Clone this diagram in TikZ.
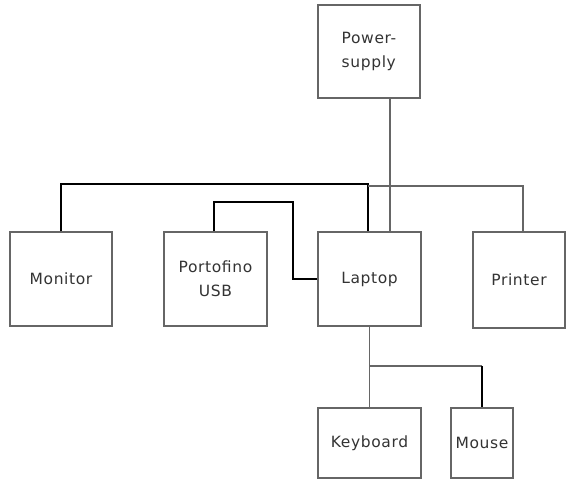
\documentclass[tikz,border=0pt]{standalone}
\usepackage{fontspec}
\setmainfont{DejaVu Sans}[LetterSpace=4]
\begin{document}
\begin{tikzpicture}[x=1pt,y=-1pt,
  box/.style={draw=black!60, line width=1.1pt, minimum width=102pt, minimum height=94pt,
    inner sep=0pt, text=black!80, font=\fontsize{15.5}{24}\selectfont, align=center},
  wire/.style={draw=black!60, line width=1.1pt},
  bwire/.style={draw=black, line width=1.4pt}]
\useasboundingbox (0,0) rectangle (566,482);
\node[box, minimum height=93pt, align=left] (ps) at (369,51.5) {Power-\\supply};
\node[box] (mon) at (61,279) {Monitor};
\node[box, minimum width=103pt] (port) at (215.5,279) {Portofino\\USB};
\node[box, minimum width=103pt] (lap) at (369.5,279) {Laptop};
\node[box, minimum width=92pt, minimum height=96pt] (prn) at (519,280) {Printer};
\node[box, minimum width=103pt, minimum height=70pt] (kb) at (369.5,443) {Keyboard};
\node[box, minimum width=62pt, minimum height=70pt] (mouse) at (482,443) {Mouse};
\coordinate (pc) at (390,0);
\coordinate (lc) at (368,184);
\coordinate (lc2) at (368,186);
\coordinate (prc) at (523,186);
\coordinate (pj) at (293,202);
\coordinate (ks) at (369.5,366);
\coordinate (mc) at (482,366);
\draw[wire] (ps.south -| pc) -- (lap.north -| pc);
\draw[bwire] (mon.north) |- (lc) -- (lap.north -| lc);
\draw[wire] (lc2) -- (prc) -- (prn.north -| prc);
\draw[bwire] (port.north -| 214,0) |- (pj) |- (lap.west);
\draw[wire] (lap.south) -- (kb.north);
\draw[wire] (ks) -- (mc);
\draw[bwire] (mc) -- (mouse.north);
\end{tikzpicture}
\end{document}
